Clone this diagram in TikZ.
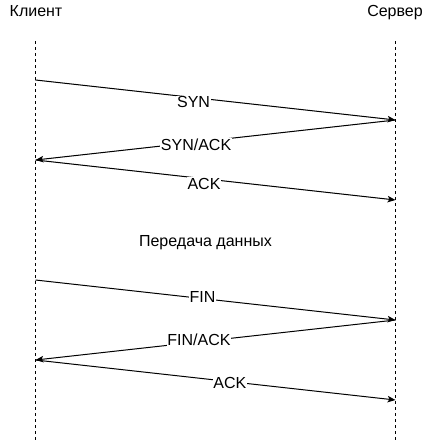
\documentclass[tikz,border=0pt]{standalone}
\usepackage{fontspec}
\setmainfont{Liberation Sans}
\usetikzlibrary{arrows.meta}
\begin{document}
\begin{tikzpicture}[x=1pt,y=-1pt,
  lifeline/.style={line width=1pt, dash pattern=on 3pt off 3pt},
  msg/.style={line width=1pt, -{Stealth[length=8pt,width=6.5pt,inset=2pt]}},
  lbl/.style={fill=white, inner sep=0.6pt, text height=11.5pt, text depth=0pt, font=\fontsize{16}{19}\selectfont},
  title/.style={anchor=base, inner sep=0pt, font=\fontsize{16}{19}\selectfont}]
\useasboundingbox (0,0) rectangle (431,442);
% headers
\node[title] (client) at (36,16.7) {Клиент};
\node[title] (server) at (395,16.7) {Сервер};
% lifelines
\coordinate (ctop) at (35.5,41);
\coordinate (cbot) at (35.5,442);
\coordinate (stop) at (395.5,41);
\coordinate (sbot) at (395.5,442);
\draw[lifeline] (ctop) -- (cbot);
\draw[lifeline] (stop) -- (sbot);
% message points
\coordinate (c1) at (35.5,80);
\coordinate (s1) at (395.5,120);
\coordinate (c2) at (35.5,160);
\coordinate (s2) at (395.5,200);
\coordinate (c3) at (35.5,280);
\coordinate (s3) at (395.5,320);
\coordinate (c4) at (35.5,360);
\coordinate (s4) at (395.5,400);
% messages
\draw[msg] (c1) -- node[lbl, pos=0.439, yshift=-4.6pt] (syn) {SYN} (s1);
\draw[msg] (s1) -- node[lbl, pos=0.554, yshift=-2.3pt] (synack) {SYN/ACK} (c2);
\draw[msg] (c2) -- node[lbl, pos=0.468, yshift=-5pt] (ack1) {ACK} (s2);
\node[title] (data) at (205.5,246) {Передача данных};
\draw[msg] (c3) -- node[lbl, pos=0.464, yshift=2.3pt] (fin) {FIN} (s3);
\draw[msg] (s3) -- node[lbl, pos=0.546, yshift=2.3pt] (finack) {FIN/ACK} (c4);
\draw[msg] (c4) -- node[lbl, pos=0.540, yshift=-1.2pt] (ack2) {ACK} (s4);
\end{tikzpicture}
\end{document}
